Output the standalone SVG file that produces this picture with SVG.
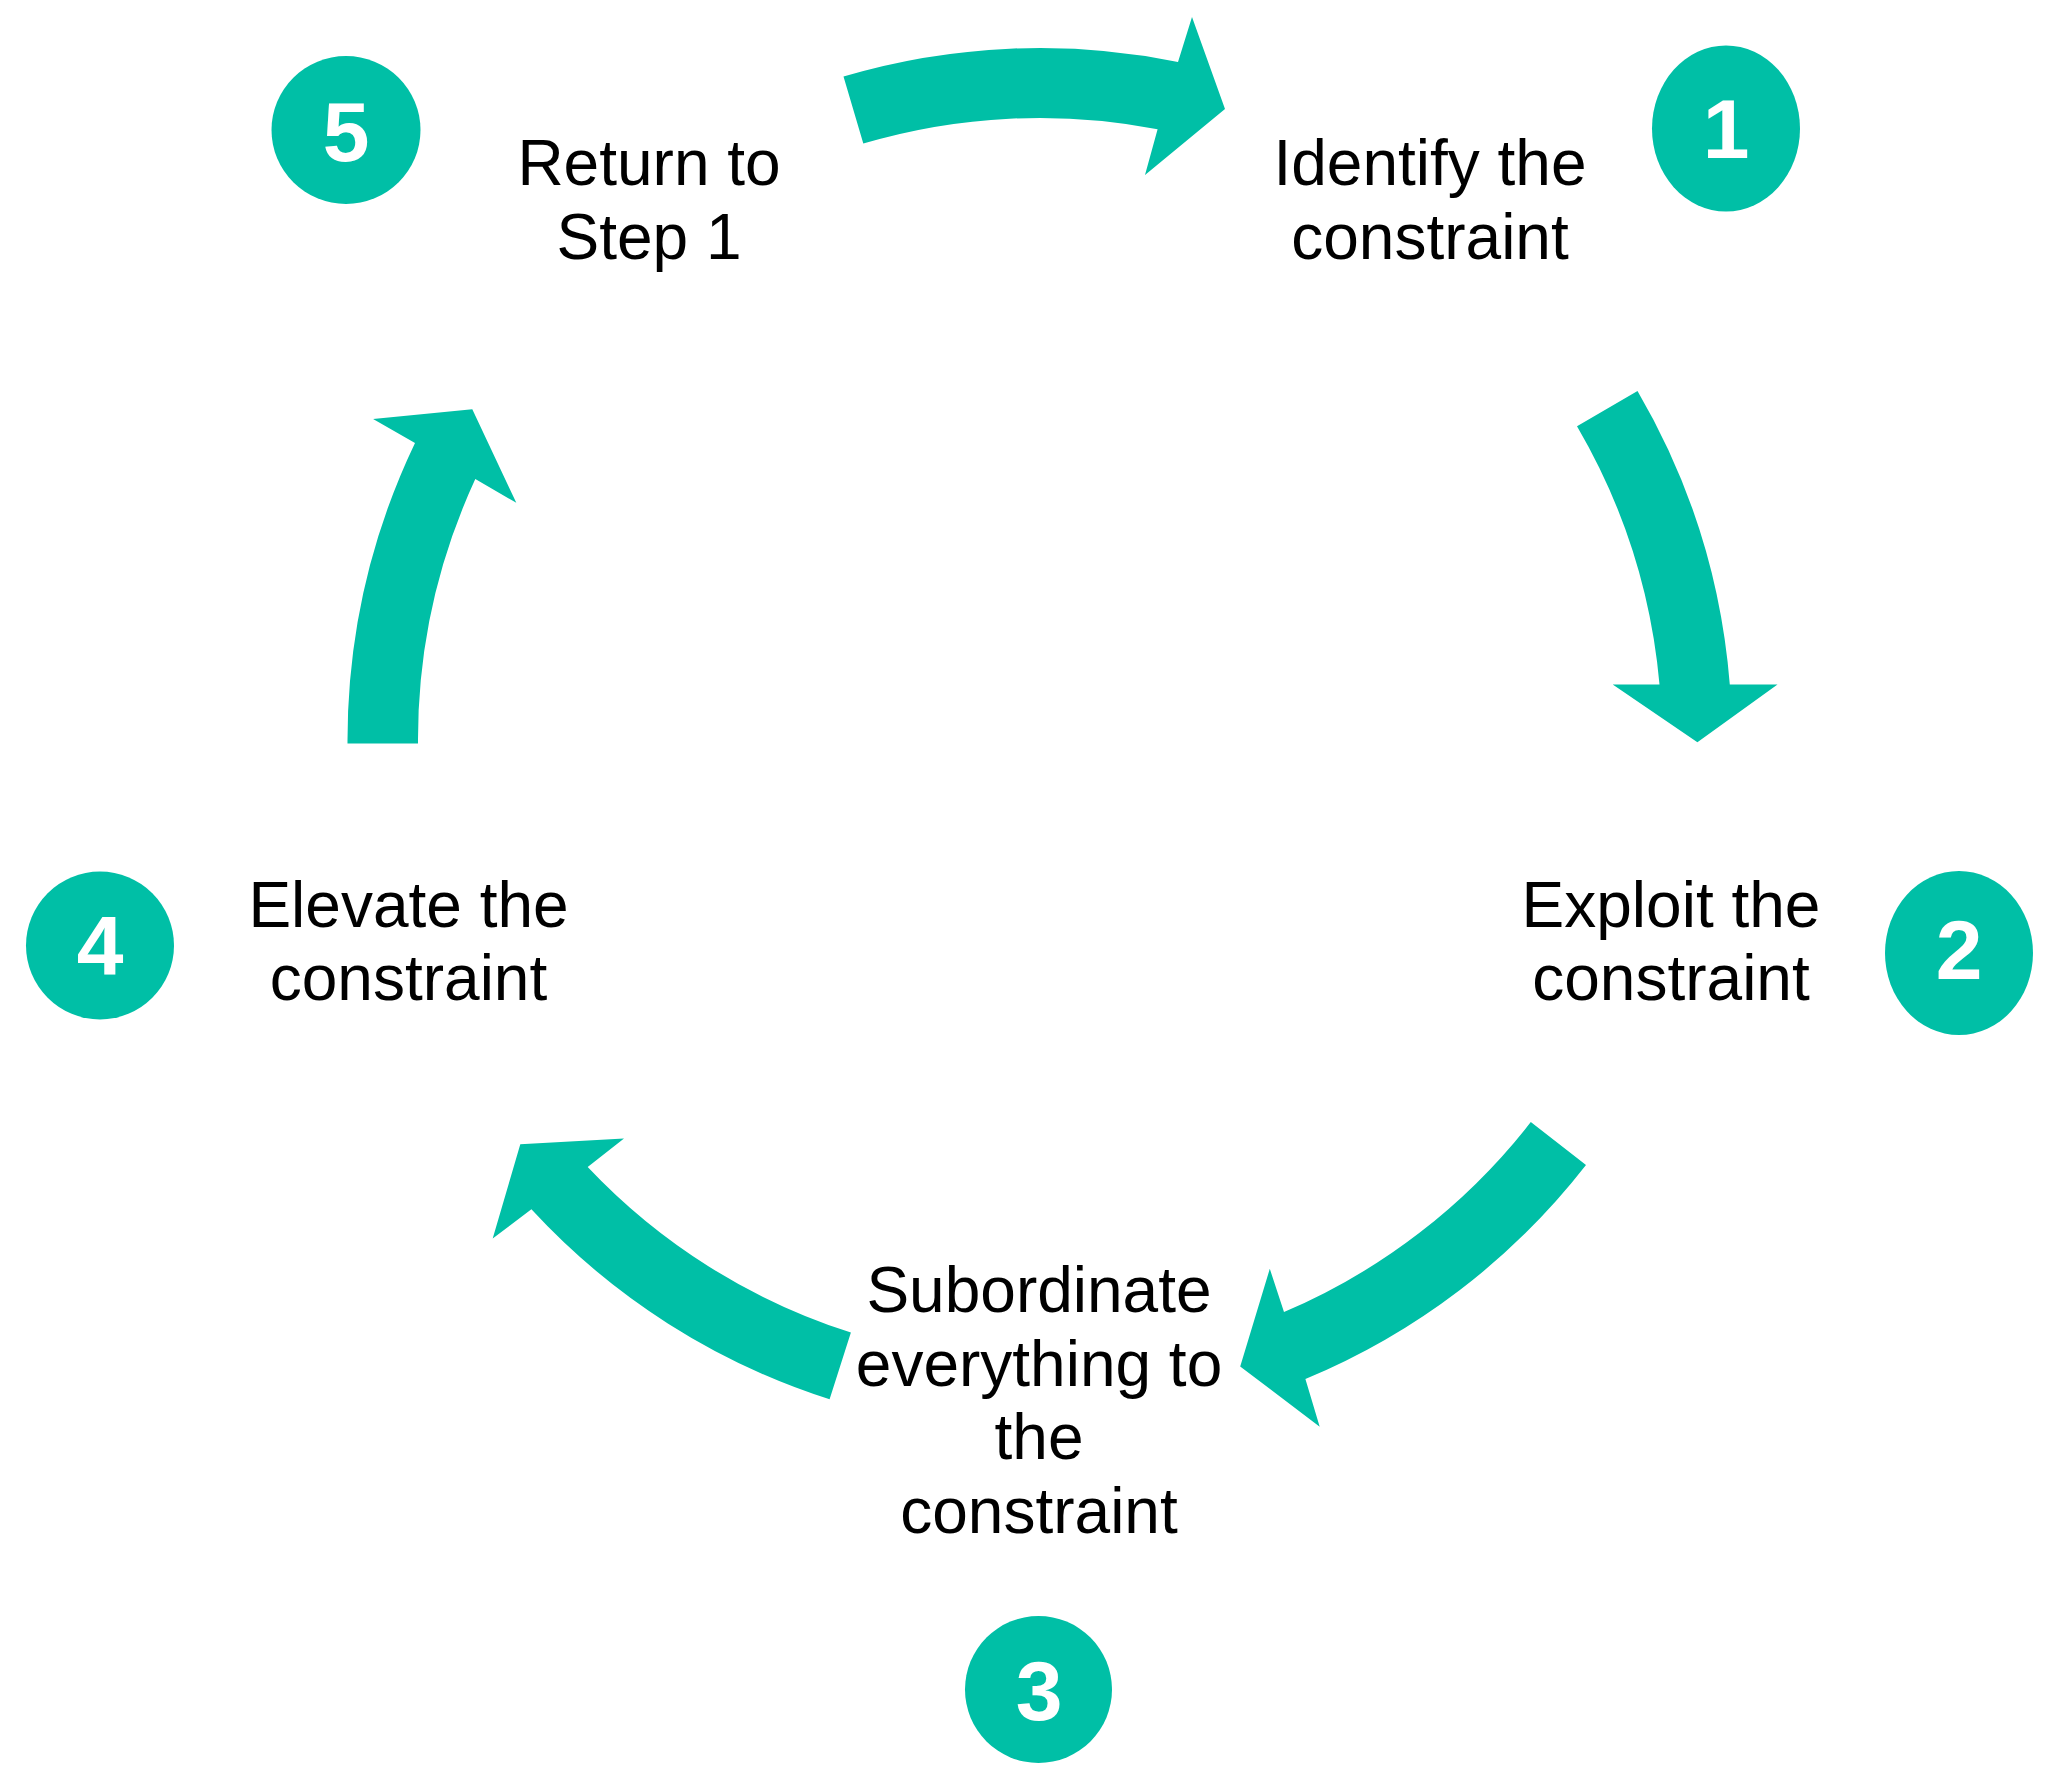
<svg xmlns="http://www.w3.org/2000/svg" width="2059" height="1787" viewBox="0 0 2059 1787">
<style>
.arrow{fill:#00BFA6;stroke:none}
.badge{fill:#00BFA6;stroke:none}
.num{font-family:"Liberation Sans",Arial,sans-serif;font-size:84px;font-weight:bold;fill:#FFFFFF;text-anchor:middle}
.lbl{font-family:"Liberation Sans",Arial,sans-serif;font-size:64px;fill:#000000;text-anchor:middle}
</style>
<rect width="2059" height="1787" fill="#FFFFFF"/>
<g id="connectors">
<path id="arrow-5-1" class="arrow" d="M 843.5 76.5 A 692 692 0 0 1 1178 61.9 L 1192 17 L 1225 109 L 1145 175 L 1157.6 129.2 A 622 622 0 0 0 863.3 143.6 Z"/>
<path id="arrow-1-2" class="arrow" d="M 1637.5 390.9 A 692 692 0 0 1 1729.8 684.5 L 1777.5 684.5 L 1697.4 742.2 L 1612.7 684.5 L 1659.5 684.5 A 622 622 0 0 0 1577 426.2 Z"/>
<path id="arrow-2-3" class="arrow" d="M 1586 1165.1 A 692 692 0 0 1 1305.4 1379.1 L 1319.7 1426.7 L 1240.2 1366.4 L 1269.8 1268.8 L 1284 1312.1 A 622 622 0 0 0 1530.8 1122.1 Z"/>
<path id="arrow-3-4" class="arrow" d="M 829.6 1399.3 A 692 692 0 0 1 531.4 1209.3 L 492.7 1238.4 L 520.3 1144.3 L 624 1138.5 L 587.7 1167 A 622 622 0 0 0 850.9 1332.6 Z"/>
<path id="arrow-4-5" class="arrow" d="M 347.5 743.6 A 692 692 0 0 1 415 442.9 L 373.1 419 L 472.3 409.3 L 516.3 502.8 L 475.3 479.1 A 622 622 0 0 0 418 743.6 Z"/>
</g>
<g id="step1">
<ellipse class="badge" cx="1726" cy="128.5" rx="74" ry="83"/>
<text class="num" x="1726" y="158">1</text>
<text class="lbl" x="1430" y="185">Identify the</text>
<text class="lbl" x="1430" y="259">constraint</text>
</g>
<g id="step2">
<ellipse class="badge" cx="1959" cy="953" rx="74" ry="82"/>
<text class="num" x="1959" y="979">2</text>
<text class="lbl" x="1671" y="927">Exploit the</text>
<text class="lbl" x="1671" y="1000">constraint</text>
</g>
<g id="step3">
<ellipse class="badge" cx="1038.5" cy="1689.5" rx="73.5" ry="73.5"/>
<text class="num" x="1039" y="1720">3</text>
<text class="lbl" x="1039" y="1312">Subordinate</text>
<text class="lbl" x="1039" y="1385.5">everything to</text>
<text class="lbl" x="1039" y="1459">the</text>
<text class="lbl" x="1039" y="1533">constraint</text>
</g>
<g id="step4">
<ellipse class="badge" cx="100" cy="945.5" rx="74" ry="74"/>
<text class="num" x="100" y="975">4</text>
<text class="lbl" x="408.5" y="927">Elevate the</text>
<text class="lbl" x="408.5" y="1000">constraint</text>
</g>
<g id="step5">
<ellipse class="badge" cx="346" cy="130" rx="74.5" ry="74"/>
<text class="num" x="346" y="161">5</text>
<text class="lbl" x="649" y="185">Return to</text>
<text class="lbl" x="649" y="258.5">Step 1</text>
</g>
</svg>
